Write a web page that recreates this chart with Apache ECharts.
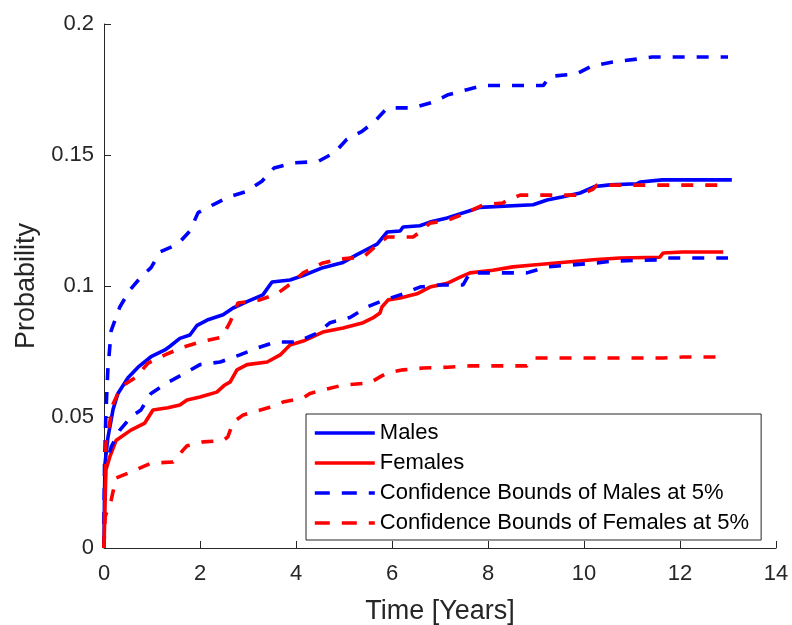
<!DOCTYPE html>
<html>
<head>
<meta charset="utf-8">
<script src="https://cdn.jsdelivr.net/npm/echarts@6/dist/echarts.min.js"></script>
<style>
html,body{margin:0;padding:0;background:#fff;}
#chart{width:792px;height:625px;}
</style>
</head>
<body>
<div id="chart"></div>
<script>
// ---- data ----
var xTicks = [0, 2, 4, 6, 8, 10, 12, 14];
var yTicks = ['0', '0.05', '0.1', '0.15', '0.2'];
var legendNames = ['Males', 'Females', 'Confidence Bounds of Males at 5%', 'Confidence Bounds of Females at 5%'];

var malesT = [0,0.01,0.02,0.08,0.19,0.29,0.5,0.71,0.98,1.27,1.375,1.58,1.79,1.94,2.15,2.48,2.69,2.98,3.31,3.5,3.875,4.15,4.56,4.98,5.27,5.69,5.9,6.17,6.23,6.58,6.79,7.15,7.67,7.83,8.94,9.23,9.54,9.92,10.23,10.54,11.1,11.17,11.63,13.08];
var malesP = [0,0.02,0.032,0.042,0.053,0.059,0.065,0.069,0.073,0.0756,0.077,0.08,0.0813,0.085,0.087,0.089,0.0916,0.094,0.0966,0.1015,0.1023,0.104,0.107,0.109,0.112,0.116,0.1206,0.121,0.1225,0.123,0.1244,0.126,0.129,0.13,0.131,0.1328,0.134,0.1355,0.138,0.1386,0.139,0.1397,0.1405,0.1405];

var femalesT = [0,0.02,0.04,0.125,0.25,0.56,0.85,1.02,1.33,1.58,1.73,2.0,2.35,2.5,2.63,2.77,2.98,3.4,3.67,3.875,4.15,4.56,4.98,5.4,5.6,5.75,5.79,5.92,6.17,6.52,6.79,7.15,7.42,7.625,8.1,8.52,8.94,10.19,10.75,11.58,11.65,12.04,12.9];
var femalesP = [0,0.0156,0.0298,0.035,0.041,0.045,0.0477,0.0527,0.0535,0.0546,0.0565,0.0576,0.0595,0.062,0.0634,0.068,0.07,0.071,0.0737,0.0775,0.079,0.0824,0.084,0.086,0.0878,0.0897,0.092,0.0947,0.0954,0.097,0.0996,0.101,0.1034,0.105,0.106,0.1073,0.108,0.11,0.1107,0.111,0.1126,0.113,0.113];

var malesUpT = [0,0.01,0.04,0.08,0.15,0.33,0.54,0.75,0.98,1.17,1.54,1.79,1.96,2.27,2.6,2.96,3.29,3.54,3.96,4.46,4.81,5.06,5.375,5.65,5.9,6.44,6.83,7.17,7.58,7.9,9.15,9.29,9.85,10.17,10.6,11.1,11.42,13.0];
var malesUpP = [0,0.031,0.0515,0.068,0.083,0.092,0.0985,0.103,0.107,0.113,0.116,0.121,0.128,0.131,0.134,0.136,0.14,0.145,0.147,0.1475,0.151,0.156,0.159,0.163,0.168,0.168,0.17,0.173,0.175,0.1765,0.1765,0.18,0.181,0.184,0.1855,0.1866,0.1874,0.1874];

var malesLoT = [0,0.02,0.15,0.33,0.56,0.77,0.98,1.31,1.69,2.0,2.42,2.83,3.19,3.56,4.02,4.44,4.71,5.125,5.48,5.85,6.23,6.58,7.0,7.48,7.625,8.81,9.23,10.27,10.6,11.58,11.65,13.0];
var malesLoP = [0,0.0298,0.0386,0.045,0.05,0.0527,0.059,0.063,0.0668,0.07,0.071,0.0737,0.0763,0.0786,0.0786,0.082,0.086,0.088,0.092,0.0947,0.097,0.0996,0.1004,0.1004,0.105,0.105,0.1073,0.1088,0.1095,0.11,0.1107,0.1107];

var femalesUpT = [0,0.04,0.19,0.35,0.65,0.92,1.27,1.65,2.0,2.46,2.63,2.79,3.25,3.6,3.94,4.15,4.56,4.92,5.4,5.69,5.9,6.44,6.58,6.79,7.15,7.56,7.9,8.31,8.4,8.67,9.92,10.19,10.27,12.9];
var femalesUpP = [0,0.04,0.055,0.0615,0.065,0.0706,0.0737,0.0767,0.0786,0.0805,0.0863,0.0935,0.0947,0.097,0.1015,0.105,0.1088,0.1103,0.111,0.1157,0.1187,0.1187,0.1206,0.124,0.125,0.128,0.131,0.1317,0.1328,0.1347,0.1347,0.137,0.1385,0.1385];

var femalesLoT = [0,0.02,0.15,0.25,0.56,0.98,1.44,1.58,1.73,2.06,2.48,2.58,2.69,2.9,3.4,3.73,4.15,4.29,4.56,4.98,5.54,5.75,5.9,6.23,6.65,7.15,7.625,8.81,8.94,11.65,12.06,12.9];
var femalesLoP = [0,0.0118,0.0183,0.0267,0.029,0.0324,0.0328,0.036,0.039,0.0405,0.041,0.0424,0.048,0.0508,0.0534,0.0557,0.0573,0.059,0.0603,0.0622,0.063,0.0653,0.0668,0.068,0.0687,0.069,0.0695,0.0695,0.0725,0.0725,0.0729,0.0729];

// ---- build ----
function pairs(t, p) { return t.map(function (v, i) { return [v, p[i]]; }); }
var FONT = '"Liberation Sans", Arial, Helvetica, sans-serif';
var AX = '#262626';
var BLUE = '#0000ff', RED = '#ff0000';
var DASH = [12, 12];
var LW = 3.6;

function line(name, data, color, dashed) {
  return {
    name: name, type: 'line', data: data, symbol: 'none', showSymbol: false,
    lineStyle: { color: color, width: LW, type: dashed ? DASH : 'solid', cap: 'butt' },
    itemStyle: { color: color },
    emphasis: { disabled: true }, silent: true
  };
}

function legendItem(name, color, dashed) {
  return {
    name: name,
    itemStyle: { opacity: 0 },
    lineStyle: { color: color, width: LW, type: dashed ? [15, 12] : 'solid', opacity: 1 }
  };
}

var chart = echarts.init(document.getElementById('chart'), null, { renderer: 'canvas' });
chart.setOption({
  animation: false,
  backgroundColor: '#fff',
  textStyle: { fontFamily: FONT },
  grid: { left: 104, right: 16, top: 24, bottom: 77, containLabel: false, outerBoundsMode: 'none' },
  xAxis: {
    type: 'value', min: xTicks[0], max: xTicks[xTicks.length - 1], interval: 2,
    name: 'Time [Years]', nameLocation: 'middle', nameGap: 50,
    nameTextStyle: { fontSize: 27, color: AX, fontFamily: FONT },
    axisLine: { show: true, onZero: false, lineStyle: { color: AX, width: 1 } },
    axisTick: { show: true, inside: true, length: 7, lineStyle: { color: AX } },
    axisLabel: { fontSize: 22, color: AX, margin: 15, fontFamily: FONT,
      formatter: function (v) { var i = xTicks.indexOf(v); return i >= 0 ? String(xTicks[i]) : ''; } },
    splitLine: { show: false }
  },
  yAxis: {
    type: 'value', min: 0, max: 0.2, interval: 0.05,
    name: 'Probability', nameLocation: 'middle', nameGap: 64,
    nameTextStyle: { fontSize: 27, color: AX, fontFamily: FONT },
    axisLine: { show: true, lineStyle: { color: AX, width: 1 } },
    axisTick: { show: true, inside: true, length: 7, lineStyle: { color: AX } },
    axisLabel: { fontSize: 22, color: AX, margin: 10, fontFamily: FONT,
      formatter: function (v) { var i = Math.round(v / 0.05); return yTicks[i] !== undefined ? yTicks[i] : ''; } },
    splitLine: { show: false }
  },
  legend: {
    data: [
      legendItem(legendNames[0], BLUE, false),
      legendItem(legendNames[1], RED, false),
      legendItem(legendNames[2], BLUE, true),
      legendItem(legendNames[3], RED, true)
    ],
    orient: 'vertical', left: 306, top: 414,
    itemWidth: 60, itemHeight: 14, itemGap: 8,
    padding: [8, 12, 6, 7],
    borderColor: AX, borderWidth: 1, backgroundColor: '#fff',
    itemStyle: { opacity: 0 },
    lineStyle: { width: LW },
    textStyle: { fontSize: 22, color: '#000', fontFamily: FONT },
    selectedMode: false
  },
  series: [
    line(legendNames[0], pairs(malesT, malesP), BLUE, false),
    line(legendNames[1], pairs(femalesT, femalesP), RED, false),
    line(legendNames[2], pairs(malesUpT, malesUpP), BLUE, true),
    line(legendNames[2], pairs(malesLoT, malesLoP), BLUE, true),
    line(legendNames[3], pairs(femalesUpT, femalesUpP), RED, true),
    line(legendNames[3], pairs(femalesLoT, femalesLoP), RED, true)
  ]
});
</script>
</body>
</html>
